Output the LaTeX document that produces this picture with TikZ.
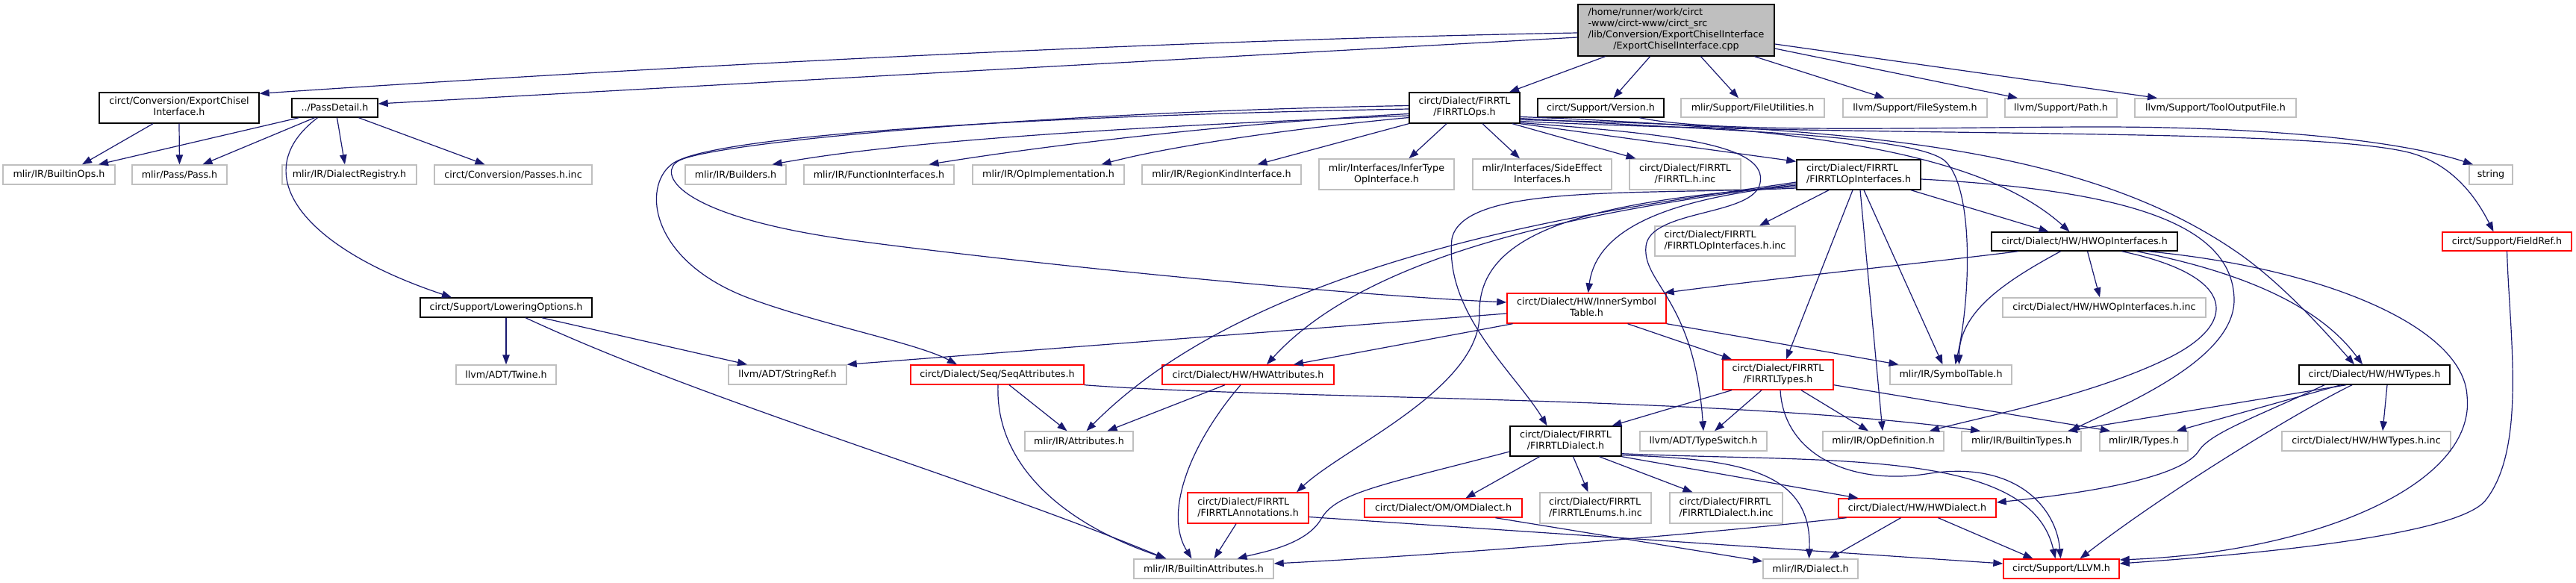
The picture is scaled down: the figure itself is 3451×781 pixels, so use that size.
\documentclass[tikz,border=0pt]{standalone}
\usepackage{fontspec}
\setmainfont{DejaVu Sans}
\usetikzlibrary{arrows.meta}
\definecolor{edgec}{HTML}{191970}
\definecolor{grayb}{HTML}{BFBFBF}
\newcommand{\twol}[2]{\begin{tabular}{@{}l@{}}#1\\\multicolumn{1}{@{}c@{}}{#2}\end{tabular}}
\begin{document}
\begin{tikzpicture}[x=1pt,y=-1pt,
 nd/.style={rectangle, inner sep=0pt, font=\fontsize{12.7}{15}\selectfont, line width=1.4pt, fill=white},
 gn/.style={nd, draw=grayb},
 bn/.style={nd, draw=black},
 rn/.style={nd, draw=red},
 mn/.style={nd, draw=black, fill=grayb},
 ed/.style={draw=edgec, line width=1.2pt, -{Triangle[length=13pt,width=9.5pt]}},
]
\fill[white] (0,0) rectangle (3451,781);
\useasboundingbox (0,0) rectangle (3451,781);

\node[mn, minimum width=263pt, minimum height=69pt] (main) at (2245.5,40.5) {\begin{tabular}{@{}l@{}}/home/runner/work/circt\\-www/circt-www/circt\_src\\/lib/Conversion/ExportChiselInterface\\\multicolumn{1}{@{}c@{}}{/ExportChiselInterface.cpp}\end{tabular}};
\node[bn, minimum width=214pt, minimum height=41pt] (expch) at (240,144.5) {\twol{circt/Conversion/ExportChisel}{Interface.h}};
\node[bn, minimum width=115pt, minimum height=25pt] (passd) at (448.5,144.5) {../PassDetail.h};
\node[bn, minimum width=148pt, minimum height=41pt] (firops) at (1962,144.5) {\twol{circt/Dialect/FIRRTL}{/FIRRTLOps.h}};
\node[bn, minimum width=169pt, minimum height=25pt] (version) at (2144.5,144.5) {circt/Support/Version.h};
\node[gn, minimum width=192pt, minimum height=25pt] (fileutil) at (2348,144.5) {mlir/Support/FileUtilities.h};
\node[gn, minimum width=193pt, minimum height=25pt] (filesys) at (2565.5,144.5) {llvm/Support/FileSystem.h};
\node[gn, minimum width=150pt, minimum height=25pt] (lpath) at (2761,144.5) {llvm/Support/Path.h};
\node[gn, minimum width=216pt, minimum height=25pt] (tool) at (2968,144.5) {llvm/Support/ToolOutputFile.h};
\node[gn, minimum width=150pt, minimum height=26pt] (bops) at (79,234) {mlir/IR/BuiltinOps.h};
\node[gn, minimum width=127pt, minimum height=26pt] (pass) at (240.5,234) {mlir/Pass/Pass.h};
\node[gn, minimum width=180pt, minimum height=26pt] (dreg) at (468,234) {mlir/IR/DialectRegistry.h};
\node[gn, minimum width=211pt, minimum height=26pt] (passinc) at (687.5,234) {circt/Conversion/Passes.h.inc};
\node[gn, minimum width=135pt, minimum height=26pt] (builders) at (985.5,234) {mlir/IR/Builders.h};
\node[gn, minimum width=201pt, minimum height=26pt] (funcif) at (1177.5,234) {mlir/IR/FunctionInterfaces.h};
\node[gn, minimum width=203pt, minimum height=26pt] (opimpl) at (1404.5,234) {mlir/IR/OpImplementation.h};
\node[gn, minimum width=213pt, minimum height=26pt] (region) at (1636.5,234) {mlir/IR/RegionKindInterface.h};
\node[gn, minimum width=181pt, minimum height=41pt] (infer) at (1857.5,233.5) {\twol{mlir/Interfaces/InferType}{OpInterface.h}};
\node[gn, minimum width=186pt, minimum height=41pt] (side) at (2066,233.5) {\twol{mlir/Interfaces/SideEffect}{Interfaces.h}};
\node[gn, minimum width=149pt, minimum height=41pt] (firinc) at (2257.5,233.5) {\twol{circt/Dialect/FIRRTL}{/FIRRTL.h.inc}};
\node[bn, minimum width=166pt, minimum height=40pt] (fopif) at (2490,234) {\twol{circt/Dialect/FIRRTL}{/FIRRTLOpInterfaces.h}};
\node[gn, minimum width=58pt, minimum height=26pt] (stdstring) at (3337,234) {string};
\node[gn, minimum width=188pt, minimum height=40pt] (fopinc) at (2311,323) {\twol{circt/Dialect/FIRRTL}{/FIRRTLOpInterfaces.h.inc}};
\node[bn, minimum width=249pt, minimum height=25pt] (hwopif) at (2792.5,323.5) {circt/Dialect/HW/HWOpInterfaces.h};
\node[rn, minimum width=173pt, minimum height=25pt] (fieldref) at (3358.5,323.5) {circt/Support/FieldRef.h};
\node[rn, minimum width=213pt, minimum height=40pt] (innersym) at (2125.5,413) {\twol{circt/Dialect/HW/InnerSymbol}{Table.h}};
\node[bn, minimum width=230pt, minimum height=26pt] (lowering) at (678,412) {circt/Support/LoweringOptions.h};
\node[gn, minimum width=272pt, minimum height=26pt] (hwopinc) at (2819,412) {circt/Dialect/HW/HWOpInterfaces.h.inc};
\node[gn, minimum width=134pt, minimum height=26pt] (twine) at (678,502) {llvm/ADT/Twine.h};
\node[gn, minimum width=158pt, minimum height=26pt] (stringref) at (1055,502) {llvm/ADT/StringRef.h};
\node[rn, minimum width=232pt, minimum height=26pt] (seqattr) at (1336,502) {circt/Dialect/Seq/SeqAttributes.h};
\node[rn, minimum width=230pt, minimum height=26pt] (hwattr) at (1672,502) {circt/Dialect/HW/HWAttributes.h};
\node[rn, minimum width=148pt, minimum height=40pt] (firtypes) at (2382,502) {\twol{circt/Dialect/FIRRTL}{/FIRRTLTypes.h}};
\node[gn, minimum width=163pt, minimum height=26pt] (symtab) at (2613.5,502) {mlir/IR/SymbolTable.h};
\node[bn, minimum width=202pt, minimum height=26pt] (hwtypes) at (3181,502) {circt/Dialect/HW/HWTypes.h};
\node[gn, minimum width=145pt, minimum height=26pt] (attrs) at (1445.5,591) {mlir/IR/Attributes.h};
\node[bn, minimum width=149pt, minimum height=40pt] (firdialect) at (2097.5,591) {\twol{circt/Dialect/FIRRTL}{/FIRRTLDialect.h}};
\node[gn, minimum width=170pt, minimum height=26pt] (typeswitch) at (2282,591) {llvm/ADT/TypeSwitch.h};
\node[gn, minimum width=162pt, minimum height=26pt] (opdef) at (2523,591) {mlir/IR/OpDefinition.h};
\node[gn, minimum width=160pt, minimum height=26pt] (btypes) at (2708,591) {mlir/IR/BuiltinTypes.h};
\node[gn, minimum width=118pt, minimum height=26pt] (types) at (2872,591) {mlir/IR/Types.h};
\node[gn, minimum width=226pt, minimum height=26pt] (hwtypesinc) at (3170,591) {circt/Dialect/HW/HWTypes.h.inc};
\node[rn, minimum width=162pt, minimum height=41pt] (annot) at (1672,680.5) {\twol{circt/Dialect/FIRRTL}{/FIRRTLAnnotations.h}};
\node[rn, minimum width=211pt, minimum height=25pt] (omdialect) at (1933.5,680.5) {circt/Dialect/OM/OMDialect.h};
\node[gn, minimum width=149pt, minimum height=41pt] (enums) at (2137.5,680.5) {\twol{circt/Dialect/FIRRTL}{/FIRRTLEnums.h.inc}};
\node[gn, minimum width=151pt, minimum height=41pt] (fdinc) at (2312.5,680.5) {\twol{circt/Dialect/FIRRTL}{/FIRRTLDialect.h.inc}};
\node[rn, minimum width=211pt, minimum height=25pt] (hwdialect) at (2568.5,680.5) {circt/Dialect/HW/HWDialect.h};
\node[gn, minimum width=187pt, minimum height=26pt] (battrs) at (1612.5,762) {mlir/IR/BuiltinAttributes.h};
\node[gn, minimum width=127pt, minimum height=26pt] (dialect) at (2425.5,762) {mlir/IR/Dialect.h};
\node[rn, minimum width=155pt, minimum height=26pt] (llvm) at (2761.5,762) {circt/Support/LLVM.h};

% main
\draw[ed] ([yshift=-3.5pt]main.west) .. controls (1500,55) and (800,95) .. ([yshift=-2pt]expch.north east);
\draw[ed] ([yshift=-9.5pt]main.west) -- ([yshift=5.5pt]passd.east);
\draw[ed] ([xshift=-95pt]main.south) -- ([xshift=60pt]firops.north);
\draw[ed] ([xshift=-35pt]main.south) -- ([xshift=17pt]version.north);
\draw[ed] ([xshift=33pt]main.south) -- ([xshift=-19pt]fileutil.north);
\draw[ed] ([xshift=105pt]main.south) -- ([xshift=-41pt]filesys.north);
\draw[ed] ([yshift=-24.5pt]main.east) -- ([xshift=-58pt]lpath.north);
\draw[ed] ([yshift=-18.5pt]main.east) -- ([xshift=-78pt]tool.north);
% ExportChisel / PassDetail
\draw[ed] ([xshift=-35pt]expch.south) -- ([xshift=31pt]bops.north);
\draw[ed] (expch.south) -- (pass.north);
\draw[ed] ([xshift=-48pt]passd.south) -- ([xshift=53pt]bops.north);
\draw[ed] ([xshift=-27pt]passd.south) -- ([xshift=31pt]pass.north);
\draw[ed] ([xshift=3pt]passd.south) -- ([xshift=-6pt]dreg.north);
\draw[ed] ([xshift=32pt]passd.south) -- ([xshift=-38pt]passinc.north);
\draw[ed] ([xshift=-23pt]passd.south) .. controls (330,230) and (400,330) .. ([xshift=-73pt]lowering.north);
% LoweringOptions
\draw[ed] (lowering.south) -- (twine.north);
\draw[ed] ([xshift=48pt]lowering.south) -- ([xshift=-54pt]stringref.north);
\draw[ed] ([xshift=26pt]lowering.south) .. controls (950,540) and (1300,640) .. ([xshift=-51pt]battrs.north);
% Version
\draw[ed] ([xshift=52pt]version.south) .. controls (2300,180) and (2600,170) .. (2813,170) .. controls (3050,170) and (3220,190) .. ([xshift=-24pt]stdstring.north);
% FIRRTLOps
\draw[ed] ([yshift=-10.5pt]firops.west) .. controls (1500,170) and (1200,190) .. ([xshift=49pt]builders.north);
\draw[ed] ([yshift=-8pt]firops.west) .. controls (1650,165) and (1400,195) .. ([xshift=67pt]funcif.north);
\draw[ed] ([yshift=-13pt]firops.west) .. controls (1700,175) and (1550,200) .. ([xshift=71pt]opimpl.north);
\draw[ed] (firops.south west) -- ([xshift=48pt]region.north);
\draw[ed] ([xshift=-24pt]firops.south) -- ([xshift=30pt]infer.north);
\draw[ed] ([xshift=24pt]firops.south) -- ([xshift=-30pt]side.north);
\draw[ed] ([xshift=64pt]firops.south) -- ([xshift=-66pt]firinc.north);
\draw[ed] (firops.south east) -- ([yshift=-3pt]fopif.north west);
\draw[ed] ([yshift=3pt]firops.west) .. controls (1400,150) and (960,190) .. (910,215) .. controls (880,230) and (900,290) .. (1150,323) .. controls (1400,356) and (1800,395) .. ([yshift=8pt]innersym.west);
\draw[ed] ([yshift=-1.5pt]firops.west) .. controls (1400,155) and (950,180) .. (900,220) .. controls (860,250) and (870,350) .. (1005,400) .. controls (1100,435) and (1230,460) .. ([xshift=-54pt]seqattr.north);
\draw[ed] ([yshift=-12pt]firops.east) .. controls (2400,170) and (2650,200) .. ([xshift=-20pt]hwopif.north);
\draw[ed] ([yshift=-14pt]firops.east) .. controls (2300,175) and (2560,180) .. (2605,215) .. controls (2645,250) and (2640,400) .. ([xshift=6pt]symtab.north);
\draw[ed] ([yshift=-16pt]firops.east) .. controls (2500,170) and (2800,200) .. (3000,340) .. controls (3060,382) and (3120,450) .. ([xshift=-27pt]hwtypes.north);
\draw[ed] ([yshift=-18pt]firops.east) .. controls (2500,185) and (3100,170) .. (3230,205) .. controls (3290,222) and (3320,270) .. ([xshift=-18pt]fieldref.north);
\draw[ed] ([yshift=-20pt]firops.east) .. controls (2250,180) and (2368,195) .. (2358,245) .. controls (2350,290) and (2210,280) .. (2205,330) .. controls (2200,380) and (2270,400) .. (typeswitch.north);
% FIRRTLOpInterfaces
\draw[ed] ([xshift=-40pt]fopif.south) -- ([xshift=46pt]fopinc.north);
\draw[ed] ([xshift=70pt]fopif.south) -- ([xshift=-48pt]hwopif.north);
\draw[ed] ([xshift=-8pt]fopif.south) -- ([xshift=11pt]firtypes.north);
\draw[ed] ([xshift=2pt]fopif.south) -- ([xshift=-1pt]opdef.north);
\draw[ed] ([xshift=7pt]fopif.south) -- ([xshift=-11pt]symtab.north);
\draw[ed] ([yshift=-6pt]fopif.east) .. controls (2850,255) and (2990,300) .. (2993,400) .. controls (2995,480) and (2850,540) .. ([xshift=65pt]btypes.north);
\draw[ed] ([yshift=-14pt]fopif.west) .. controls (2250,265) and (2140,300) .. ([xshift=2pt]innersym.north);
\draw[ed] ([yshift=-12pt]fopif.west) .. controls (2200,275) and (1850,320) .. ([xshift=25pt]hwattr.north);
\draw[ed] ([yshift=-10pt]fopif.west) .. controls (2200,275) and (1700,330) .. ([xshift=10pt]attrs.north);
\draw[ed] ([yshift=-16pt]fopif.west) .. controls (2100,270) and (1980,320) .. (1982,420) .. controls (1984,520) and (1800,600) .. ([xshift=65pt]annot.north);
\draw[ed] ([yshift=-18pt]fopif.west) .. controls (2200,262) and (1960,245) .. (1945,320) .. controls (1935,420) and (2030,500) .. ([xshift=-25pt]firdialect.north);
% InnerSymbolTable
\draw[ed] ([yshift=-7pt]innersym.west) -- (stringref.north east);
\draw[ed] ([xshift=-99pt]innersym.south) -- ([xshift=61pt]hwattr.north);
\draw[ed] ([xshift=55pt]innersym.south) -- ([xshift=-62pt]firtypes.north);
\draw[ed] (innersym.south east) -- ([xshift=-70pt]symtab.north);
% HWOpInterfaces
\draw[ed] ([xshift=4pt]hwopif.south) -- ([xshift=-6pt]hwopinc.north);
\draw[ed] ([xshift=-89pt]hwopif.south) .. controls (2600,350) and (2400,370) .. ([xshift=-3pt]innersym.north east);
\draw[ed] ([xshift=-32pt]hwopif.south) .. controls (2680,380) and (2625,420) .. ([xshift=11pt]symtab.north);
\draw[ed] ([xshift=50pt]hwopif.south) .. controls (3000,370) and (3000,435) .. (2900,482) .. controls (2800,530) and (2650,560) .. ([xshift=62pt]opdef.north);
\draw[ed] ([xshift=70pt]hwopif.south) .. controls (2980,360) and (3100,400) .. ([xshift=-16pt]hwtypes.north);
\draw[ed] ([xshift=85pt]hwopif.south) .. controls (3120,360) and (3300,440) .. (3305,530) .. controls (3318,650) and (3100,740) .. ([yshift=12pt]llvm.east);
% FieldRef
\draw[ed] (fieldref.south) .. controls (3362,450) and (3385,600) .. (3330,670) .. controls (3290,721) and (2980,745) .. ([yshift=7pt]llvm.east);
% SeqAttributes / HWAttributes
\draw[ed] ([xshift=16pt]seqattr.south) -- ([xshift=-16pt]attrs.north);
\draw[ed] ([xshift=1pt]seqattr.south) .. controls (1333,620) and (1420,700) .. ([xshift=-50pt]battrs.north);
\draw[ed] (seqattr.south east) .. controls (1700,535) and (2300,530) .. ([xshift=-55pt]btypes.north);
\draw[ed] ([xshift=-31pt]hwattr.south) -- ([xshift=38pt]attrs.north);
\draw[ed] ([xshift=-10pt]hwattr.south) .. controls (1590,600) and (1560,690) .. ([xshift=-16pt]battrs.north);
% FIRRTLTypes
\draw[ed] ([xshift=-62pt]firtypes.south) -- ([xshift=62pt]firdialect.north);
\draw[ed] ([xshift=-22pt]firtypes.south) -- ([xshift=15pt]typeswitch.north);
\draw[ed] ([xshift=31pt]firtypes.south) -- ([xshift=-20pt]opdef.north);
\draw[ed] ([yshift=7pt]firtypes.south east) -- ([xshift=-45pt]types.north);
\draw[ed] ([xshift=3pt]firtypes.south) .. controls (2390,610) and (2480,650) .. (2580,635) .. controls (2700,615) and (2755,680) .. ([xshift=-1pt]llvm.north);
% HWTypes
\draw[ed] ([xshift=-38pt]hwtypes.south) -- ([xshift=62pt]btypes.north);
\draw[ed] ([xshift=-45pt]hwtypes.south) -- ([xshift=44pt]types.north);
\draw[ed] ([xshift=17pt]hwtypes.south) -- ([xshift=22pt]hwtypesinc.north);
\draw[ed] ([xshift=-67pt]hwtypes.south) .. controls (3020,560) and (2960,580) .. (2945,605) .. controls (2920,640) and (2800,660) .. ([yshift=7.5pt]hwdialect.east);
\draw[ed] ([xshift=-30pt]hwtypes.south) .. controls (3080,550) and (2900,660) .. ([xshift=25pt]llvm.north);
% FIRRTLDialect
\draw[ed] ([xshift=-35pt]firdialect.south) -- ([xshift=30pt]omdialect.north);
\draw[ed] ([xshift=10pt]firdialect.south) -- ([xshift=-10pt]enums.north);
\draw[ed] ([xshift=45pt]firdialect.south) -- ([xshift=-45pt]fdinc.north);
\draw[ed] (firdialect.south east) -- ([xshift=-79pt]hwdialect.north);
\draw[ed] ([yshift=2pt]firdialect.south east) .. controls (2330,615) and (2428,630) .. ([xshift=-2pt]dialect.north);
\draw[ed] ([yshift=4pt]firdialect.south east) .. controls (2450,620) and (2720,600) .. ([xshift=-8pt]llvm.north);
\draw[ed] ([yshift=-14pt]firdialect.west) .. controls (1850,650) and (1790,660) .. (1770,695) .. controls (1750,730) and (1690,740) .. ([xshift=45pt]battrs.north);
% FIRRTLAnnotations / OMDialect / HWDialect
\draw[ed] ([xshift=-16pt]annot.south) -- ([xshift=14pt]battrs.north);
\draw[ed] ([yshift=-12pt]annot.east) -- ([yshift=7pt]llvm.west);
\draw[ed] ([xshift=70pt]omdialect.south) -- ([yshift=10pt]dialect.west);
\draw[ed] ([xshift=-95pt]hwdialect.south) .. controls (2350,708) and (2000,740) .. ([yshift=7pt]battrs.east);
\draw[ed] ([xshift=-22pt]hwdialect.south) -- ([xshift=25pt]dialect.north);
\draw[ed] ([xshift=28pt]hwdialect.south) -- ([xshift=-38pt]llvm.north);
\end{tikzpicture}
\end{document}
